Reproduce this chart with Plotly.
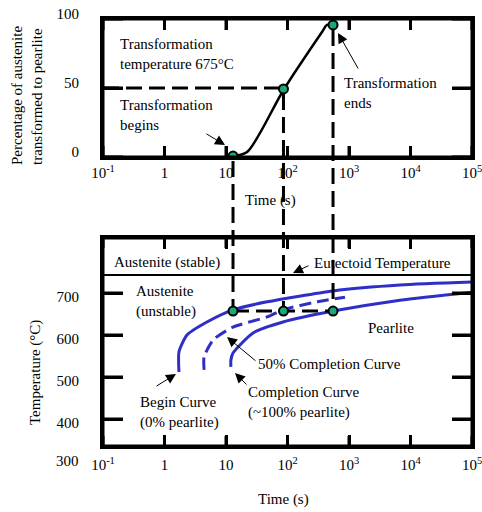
import plotly.graph_objects as go

W, H = 482, 512
FONT = "Liberation Serif, Times New Roman, DejaVu Serif, serif"

# ---------------- data ----------------
TIME_TICKS = [0.1, 1, 10, 100, 1000, 10000, 100000]
TIME_TICKTEXT = ["10<sup>-1</sup>", "1", "10", "10<sup>2</sup>", "10<sup>3</sup>",
                 "10<sup>4</sup>", "10<sup>5</sup>"]
PCT_TICKS = [0, 50, 100]
PCT_TICKTEXT = ["0", "50", "100"]
TEMP_TICKS = [400, 500, 600, 700]
TEMP_TICKTEXT = ["400", "500", "600", "700"]
TEMP_EXTRA_LABEL = 300

# transformation curve at 675 C (top)
TOP_CURVE_T = [13, 22, 88, 364, 438, 550]
TOP_CURVE_PCT = [0.7, 3.6, 49.3, 90.6, 95.7, 95.7]
# key points (begin, 50 %, end)
KEY_T = [13, 86, 550]
KEY_PCT = [0.7, 49.3, 95.7]
KEY_TEMP = [657, 657, 657]
HALF_PCT = 50

EUTECTOID_TEMP = 743

BEGIN_T = [1.72, 1.72, 2.32, 4.9, 13, 46.5, 550, 6760, 100000]
BEGIN_TEMP = [512, 560, 600, 631, 660, 679, 705, 719, 726]
HALF_T = [4.4, 4.4, 6.15, 13, 46.5, 84.5, 302, 861]
HALF_TEMP = [517, 548, 588, 619, 643, 660, 679, 690]
END_T = [12, 12, 13, 27.5, 84.5, 550, 6760, 100000]
END_TEMP = [524, 540, 557, 605, 631, 657, 683, 702]

# ---------------- layout helpers ----------------
X_DOM = [103 / W, 472 / W]
TOP_DOM = [1 - 157 / H, 1 - 19 / H]
BOT_DOM = [1 - 446 / H, 1 - 238 / H]
TOP_RANGE = [0, 100]
BOT_RANGE = [335.7, 831]
MARKER_R = 5 / H  # marker radius in paper units
PLOT_W = 369      # plot width in px
TOP_H = 138       # top plot height in px
BOT_H = 208       # bottom plot height in px


def PX(x):
    return x / W


def PY(y):
    return 1 - y / H


def top_to_paper(v):
    return TOP_DOM[0] + (v - TOP_RANGE[0]) / (TOP_RANGE[1] - TOP_RANGE[0]) * (TOP_DOM[1] - TOP_DOM[0])


def bot_to_paper(v):
    return BOT_DOM[0] + (v - BOT_RANGE[0]) / (BOT_RANGE[1] - BOT_RANGE[0]) * (BOT_DOM[1] - BOT_DOM[0])


BLACK = "black"
BLUE = "#2f2fc8"
GREEN = "#19a97b"
DASH = "16px,7px"

fig = go.Figure()

# ---------- top plot ----------
fig.add_trace(go.Scatter(x=[TIME_TICKS[0], KEY_T[1]], y=[HALF_PCT, HALF_PCT], mode="lines",
                         line=dict(color=BLACK, width=3, dash=DASH), xaxis="x", yaxis="y"))
fig.add_trace(go.Scatter(x=TOP_CURVE_T, y=TOP_CURVE_PCT, mode="lines",
                         line=dict(color=BLACK, width=2.5, shape="spline", smoothing=0.8),
                         xaxis="x", yaxis="y"))
fig.add_trace(go.Scatter(x=KEY_T, y=KEY_PCT, mode="markers",
                         marker=dict(size=9, color=GREEN, line=dict(color=BLACK, width=2)),
                         xaxis="x", yaxis="y"))

# ---------- bottom plot ----------
fig.add_trace(go.Scatter(x=[TIME_TICKS[0], TIME_TICKS[-1]], y=[EUTECTOID_TEMP, EUTECTOID_TEMP],
                         mode="lines", line=dict(color=BLACK, width=2), xaxis="x2", yaxis="y2"))
fig.add_trace(go.Scatter(x=BEGIN_T, y=BEGIN_TEMP, mode="lines",
                         line=dict(color=BLUE, width=3, shape="spline", smoothing=0.6),
                         xaxis="x2", yaxis="y2"))
fig.add_trace(go.Scatter(x=HALF_T, y=HALF_TEMP, mode="lines",
                         line=dict(color=BLUE, width=3, shape="spline", smoothing=0.6, dash="12px,6px"),
                         xaxis="x2", yaxis="y2"))
fig.add_trace(go.Scatter(x=END_T, y=END_TEMP, mode="lines",
                         line=dict(color=BLUE, width=3, shape="spline", smoothing=0.6),
                         xaxis="x2", yaxis="y2"))
fig.add_trace(go.Scatter(x=[KEY_T[0], KEY_T[2]], y=[KEY_TEMP[0], KEY_TEMP[2]], mode="lines",
                         line=dict(color=BLACK, width=3, dash=DASH), xaxis="x2", yaxis="y2"))
fig.add_trace(go.Scatter(x=KEY_T, y=KEY_TEMP, mode="markers",
                         marker=dict(size=9, color=GREEN, line=dict(color=BLACK, width=2)),
                         xaxis="x2", yaxis="y2"))

shapes = []
# vertical dashed connectors between the two plots (stop at marker edges)
for t, p, temp in zip(KEY_T, KEY_PCT, KEY_TEMP):
    shapes.append(dict(type="line", xref="x", yref="paper", x0=t, x1=t,
                       y0=top_to_paper(p) - MARKER_R, y1=bot_to_paper(temp) + MARKER_R,
                       layer="above", line=dict(color=BLACK, width=3, dash=DASH)))

# frames and inside tick marks (both sides), drawn from the tick lists
TICK_LINE = dict(color=BLACK, width=3)
for xa, ya, ph, xlen in (("x", "y", TOP_H, 11), ("x2", "y2", BOT_H, 10)):
    shapes.append(dict(type="rect", xref=xa + " domain", yref=ya + " domain",
                       x0=0, x1=1, y0=0, y1=1, line=TICK_LINE))
    for t in TIME_TICKS:
        shapes.append(dict(type="line", xref=xa, yref=ya + " domain", x0=t, x1=t,
                           y0=0, y1=xlen / ph, line=TICK_LINE))
        shapes.append(dict(type="line", xref=xa, yref=ya + " domain", x0=t, x1=t,
                           y0=1 - xlen / ph, y1=1, line=TICK_LINE))
for xa, ya, vals in (("x", "y", PCT_TICKS), ("x2", "y2", TEMP_TICKS)):
    for v in vals:
        shapes.append(dict(type="line", xref=xa + " domain", yref=ya, x0=0, x1=20 / PLOT_W,
                           y0=v, y1=v, line=TICK_LINE))
        shapes.append(dict(type="line", xref=xa + " domain", yref=ya, x0=1 - 20 / PLOT_W, x1=1,
                           y0=v, y1=v, line=TICK_LINE))

tfont = dict(family=FONT, size=15, color=BLACK)


def xaxis_style(domain, anchor, standoff):
    return dict(type="log", range=[-1, 5], domain=domain, anchor=anchor,
                tickvals=TIME_TICKS, ticktext=TIME_TICKTEXT,
                ticks="inside", ticklen=11, tickwidth=3, tickcolor=BLACK,
                showline=True, linewidth=3, linecolor=BLACK,
                mirror="ticks", showgrid=False, zeroline=False,
                ticklabelstandoff=standoff, ticklabeloverflow="allow")


def yaxis_style(domain, anchor, rng, vals, text, shift):
    return dict(range=rng, domain=domain, anchor=anchor,
                tickvals=vals, ticktext=text,
                ticks="inside", ticklen=20, tickwidth=3, tickcolor=BLACK, showline=True,
                linewidth=3, linecolor=BLACK, mirror="ticks", showgrid=False, zeroline=False,
                ticklabelstandoff=18, ticklabelshift=shift)


annotations = []


def txt(text, x, y, xanchor="left", angle=0):
    annotations.append(dict(text=text, x=PX(x), y=PY(y), xref="paper", yref="paper",
                            xanchor=xanchor, yanchor="middle", showarrow=False,
                            textangle=angle, align="left"))


def arrow(hx, hy, tx, ty):
    annotations.append(dict(text="", x=PX(hx), y=PY(hy), xref="paper", yref="paper",
                            ax=tx - hx, ay=ty - hy, showarrow=True, arrowhead=2,
                            arrowsize=2, arrowwidth=1, arrowcolor=BLACK))


# top plot texts
txt("Transformation<br>temperature 675°C", 118, 54)
txt("Transformation<br>begins", 118, 115)
txt("Transformation<br>ends", 342, 93)
txt("Percentage of austenite<br>transformed to pearlite", 27, 96, xanchor="center", angle=-90)
txt("Time (s)", 270, 200, xanchor="center")
arrow(225, 145, 205, 133)
arrow(338, 33, 359, 70)

# bottom plot texts
txt("Austenite (stable)", 112, 262)
txt("Eutectoid Temperature", 312, 263)
txt("Austenite<br>(unstable)", 134, 301)
txt("Pearlite", 366, 328)
txt("50% Completion Curve", 256, 364)
txt("Completion Curve<br>(~100% pearlite)", 246, 402)
txt("Begin Curve<br>(0% pearlite)", 138, 412)
txt("Temperature (°C)", 35, 373, xanchor="center", angle=-90)
txt("Time (s)", 283, 499, xanchor="center")
arrow(293, 273, 310, 265)
arrow(227, 337, 257, 362)
arrow(235, 373, 248, 386)
arrow(176, 374, 155, 387)

# tick label below the plotted temperature range
annotations.append(dict(text=str(TEMP_EXTRA_LABEL), x=PX(81), y=bot_to_paper(TEMP_EXTRA_LABEL),
                        xref="paper", yref="paper", xanchor="right", yanchor="middle",
                        showarrow=False))

fig.update_layout(
    template="none",
    width=W, height=H, margin=dict(l=0, r=0, t=0, b=0, pad=0),
    paper_bgcolor="white", plot_bgcolor="rgba(0,0,0,0)", showlegend=False,
    font=tfont,
    xaxis=xaxis_style(X_DOM, "y", 0),
    yaxis=yaxis_style(TOP_DOM, "x", TOP_RANGE, PCT_TICKS, PCT_TICKTEXT, -5),
    xaxis2=xaxis_style(X_DOM, "y2", 3),
    yaxis2=yaxis_style(BOT_DOM, "x2", BOT_RANGE, TEMP_TICKS, TEMP_TICKTEXT, 4),
    shapes=shapes, annotations=annotations,
)

fig.write_html("out.html")
